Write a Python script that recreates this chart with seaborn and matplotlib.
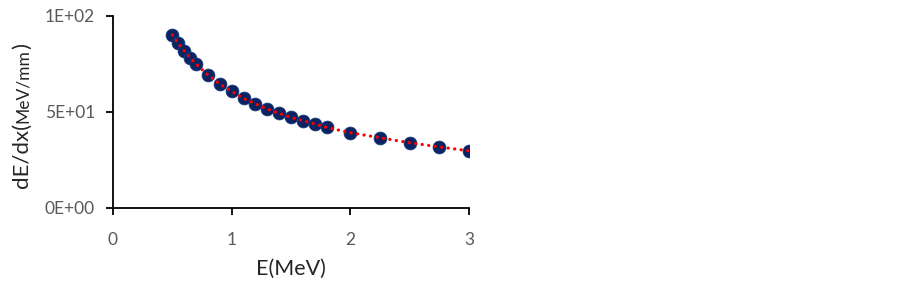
import matplotlib
matplotlib.use("Agg")
import matplotlib.pyplot as plt
import seaborn as sns
import pandas as pd

# Data
energy_mev = [0.5, 0.55, 0.6, 0.65, 0.7, 0.8, 0.9, 1.0, 1.1, 1.2, 1.3, 1.4, 1.5,
              1.6, 1.7, 1.8, 2.0, 2.25, 2.5, 2.75, 3.0]
dedx = [90.1, 85.8, 81.9, 78.3, 75.0, 69.3, 64.6, 60.8, 57.1, 54.3, 51.6, 49.3,
        47.2, 45.5, 43.8, 42.0, 39.2, 36.6, 34.0, 31.8, 29.8]
x_ticks = [0, 1, 2, 3]
y_ticks = [0, 50, 100]
y_tick_labels = ["0E+00", "5E+01", "1E+02"]

df = pd.DataFrame({"E": energy_mev, "dEdx": dedx})

sns.set_style("ticks")
plt.rcParams["font.family"] = ["Lato", "DejaVu Sans"]

fig = plt.figure(figsize=(9.03, 2.87), dpi=100)
ax = fig.add_axes([113 / 903, 1 - 208 / 287, (469 - 113) / 903, (208 - 16) / 287])

sns.scatterplot(data=df, x="E", y="dEdx", ax=ax, color="#0A2463", s=85,
                edgecolor="#1B3A7A", linewidth=0.6, zorder=3)
sns.lineplot(data=df, x="E", y="dEdx", ax=ax, color="#FF0000", linewidth=2.3,
             zorder=4, sort=True)
line = ax.lines[-1]
line.set_linestyle((0, (0.05, 2.0)))
line.set_dash_capstyle("round")

ax.set_xlim(0, 3)
ax.set_ylim(0, 100)
ax.set_xticks(x_ticks)
ax.set_xticklabels([str(t) for t in x_ticks])
ax.set_yticks(y_ticks)
ax.set_yticklabels(y_tick_labels)
ax.tick_params(axis="both", direction="out", length=5, width=1.3, colors="black",
               labelcolor="#595959", labelsize=12.5)
ax.tick_params(axis="y", pad=8)
ax.tick_params(axis="x", pad=12)
for s in ["left", "bottom"]:
    ax.spines[s].set_linewidth(1.3)
    ax.spines[s].set_color("black")
sns.despine(ax=ax)

ax.set_xlabel("E(MeV)", fontsize=15.5, color="#262626", labelpad=8)
ax.set_ylabel("")

# Y-axis label with mixed sizes
fig.canvas.draw()
r = fig.canvas.get_renderer()
xr = 32 / 903
t1 = fig.text(xr, 1 - 188 / 287, "dE/dx(", rotation=90, ha="right", va="bottom",
              fontsize=16, color="#262626")
fig.canvas.draw()
bb = t1.get_window_extent(r)
t2 = fig.text(xr - 0.001, bb.y1 / fig.bbox.height, "MeV/mm", rotation=90, ha="right",
              va="bottom", fontsize=12.5, color="#262626")
fig.canvas.draw()
bb2 = t2.get_window_extent(r)
t3 = fig.text(xr, bb2.y1 / fig.bbox.height, ")", rotation=90, ha="right", va="bottom",
              fontsize=16, color="#262626")

fig.savefig("out.png", dpi=100)
